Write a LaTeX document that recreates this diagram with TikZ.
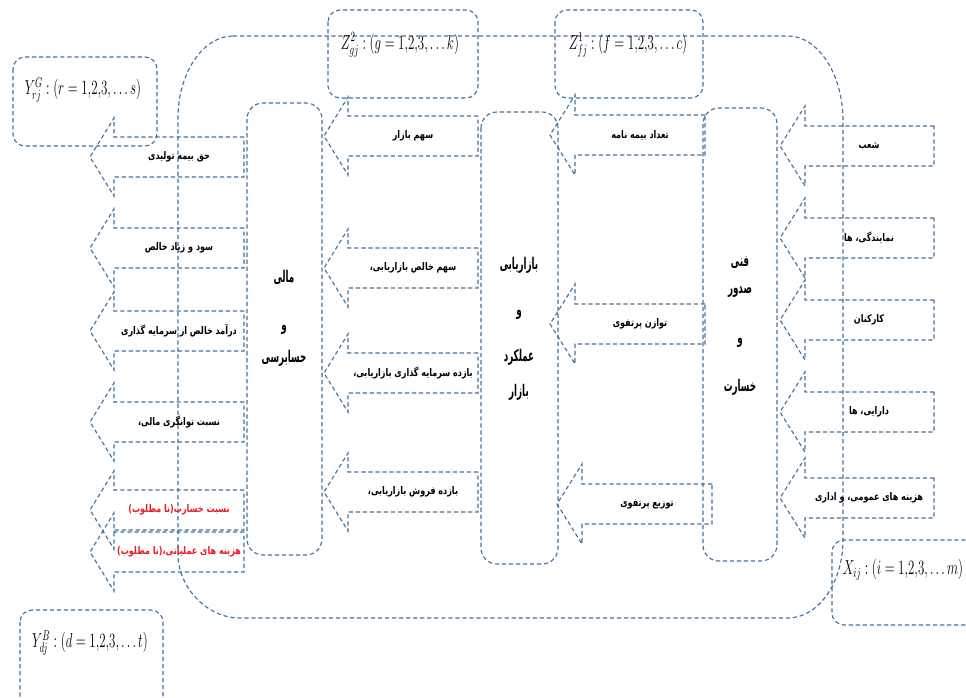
\documentclass[tikz,border=0pt]{standalone}
\usepackage{fontspec}
\usepackage{graphicx}
\usepackage{tikz}
\usetikzlibrary{positioning}
\TeXXeTstate=1
\newfontfamily\farsi[Script=Arabic]{DejaVu Sans Condensed}
\definecolor{dashblue}{RGB}{65,113,156}
\definecolor{lossred}{RGB}{232,28,36}
\newcommand{\fatext}[2][0.85]{\scalebox{#1}[1]{\farsi\beginR #2\endR}}
\newcommand{\setlabel}[1]{\scalebox{0.64}[1]{#1}}

\tikzset{
  dashline/.style={draw=dashblue, line width=0.8pt, dash pattern=on 3pt off 2pt},
  blockarrow/.style={dashline, line join=miter},
  arrowtext/.style={font=\fontsize{7.5}{9}\selectfont\bfseries, inner sep=1pt},
  colbox/.style={dashline, rounded corners=0.4cm},
  colname/.style={font=\fontsize{11.5}{13}\selectfont\bfseries, inner sep=1pt},
  setbox/.style={dashline, rounded corners=0.3cm},
  setname/.style={font=\fontsize{14}{16}\selectfont, inner sep=0pt}
}

\begin{document}
\begin{tikzpicture}[x=0.025cm,y=-0.025cm]
\useasboundingbox (0,0) rectangle (966,697);
% outer boundary
\draw[dashline] (233,36) -- (788,36) .. controls (818,36) and (843,74) .. (843,121)
  -- (843,540) .. controls (843,583) and (818,618) .. (788,618)
  -- (240,618) .. controls (205,618) and (178,585) .. (178,555)
  -- (178,118) .. controls (178,73) and (203,36) .. (233,36) -- cycle;
% index sets
\draw[setbox] (13,57) rectangle (157,146);
\node[setname] (ygood) at (83,90) {\setlabel{$Y^{G}_{rj} : (r = 1{,}2{,}3{,}\ldots s)$}};
\draw[setbox] (328,10) rectangle (478,98);
\node[setname] (zmarket) at (400,45) {\setlabel{$Z^{2}_{gj} : (g = 1{,}2{,}3{,}\ldots k)$}};
\draw[setbox] (555,10) rectangle (703,98);
\node[setname] (ztech) at (628,45) {\setlabel{$Z^{1}_{fj} : (f = 1{,}2{,}3{,}\ldots c)$}};
\draw[setbox] (832,540) rectangle (1000,625);
\node[setname] (xinput) at (903,570) {\setlabel{$X_{ij} : (i = 1{,}2{,}3{,}\ldots m)$}};
\draw[setbox] (20,610) rectangle (163,730);
\node[setname] (ybad) at (90,643) {\setlabel{$Y^{B}_{dj} : (d = 1{,}2{,}3{,}\ldots t)$}};
% stage columns
\draw[colbox] (247,103) rectangle (322,555);
\foreach \y/\w [count=\n] in {277/مالی, 330/و, 358/حسابرسی}
  \node[colname] (fin\n) at (284,\y) {\fatext[0.6]{\w}};
\draw[colbox] (481,112) rectangle (558,564);
\foreach \y/\w [count=\n] in {265/بازاریابی, 315/و, 357/عملکرد, 392/بازار}
  \node[colname] (mkt\n) at (519,\y) {\fatext[0.6]{\w}};
\draw[colbox] (703,108) rectangle (777,561);
\foreach \y/\w [count=\n] in {262/فنی, 292/صدور, 343/و, 387/خسارت}
  \node[colname] (tech\n) at (740,\y) {\fatext[0.6]{\w}};
% outputs of finance
\foreach \y/\col/\txt [count=\n] in {157/black/حق بیمه تولیدی, 248/black/سود و زیاد خالص,
    331/black/درآمد خالص از سرمایه گذاری, 422/black/نسبت توانگری مالی،,
    510/lossred/نسبت خسارت(نا مطلوب), 552/lossred/هزینه های عملیاتی،(نا مطلوب)}{
  \draw[blockarrow] (244,\y-20) -- (114,\y-20) -- (114,\y-39) -- (90,\y)
    -- (114,\y+39) -- (114,\y+20) -- (244,\y+20) -- cycle;
  \node[arrowtext, text=\col] (finout\n) at (179,\y) {\fatext{\txt}};
}
% marketing to finance
\foreach \y/\txt [count=\n] in {136/سهم بازار, 268/سهم خالص بازاریابی،,
    373/بازده سرمایه گذاری بازاریابی،, 492/بازده فروش بازاریابی،}{
  \draw[blockarrow] (478,\y-20) -- (348,\y-20) -- (348,\y-39) -- (324,\y)
    -- (348,\y+39) -- (348,\y+20) -- (478,\y+20) -- cycle;
  \node[arrowtext] (mktout\n) at (413,\y) {\fatext{\txt}};
}
% technical to marketing
\foreach \x/\y/\txt [count=\n] in {0/135/تعداد بیمه نامه, 0/324/توازن پرتفوی, 7/504/توزیع پرتفوی}{
  \draw[blockarrow] (705+\x,\y-20) -- (575+\x,\y-20) -- (575+\x,\y-40) -- (550+\x,\y)
    -- (575+\x,\y+40) -- (575+\x,\y+20) -- (705+\x,\y+20) -- cycle;
  \node[arrowtext] (techout\n) at (640+\x,\y) {\fatext{\txt}};
}
% inputs
\foreach \y/\txt [count=\n] in {146/شعب, 238/نمایندگی، ها, 320/کارکنان, 412/دارایی، ها,
    498/هزینه های عمومی، و اداری}{
  \draw[blockarrow] (934,\y-20) -- (805,\y-20) -- (805,\y-40) -- (780,\y)
    -- (805,\y+40) -- (805,\y+20) -- (934,\y+20) -- cycle;
  \node[arrowtext] (input\n) at (869,\y) {\fatext{\txt}};
}
\end{tikzpicture}
\end{document}
